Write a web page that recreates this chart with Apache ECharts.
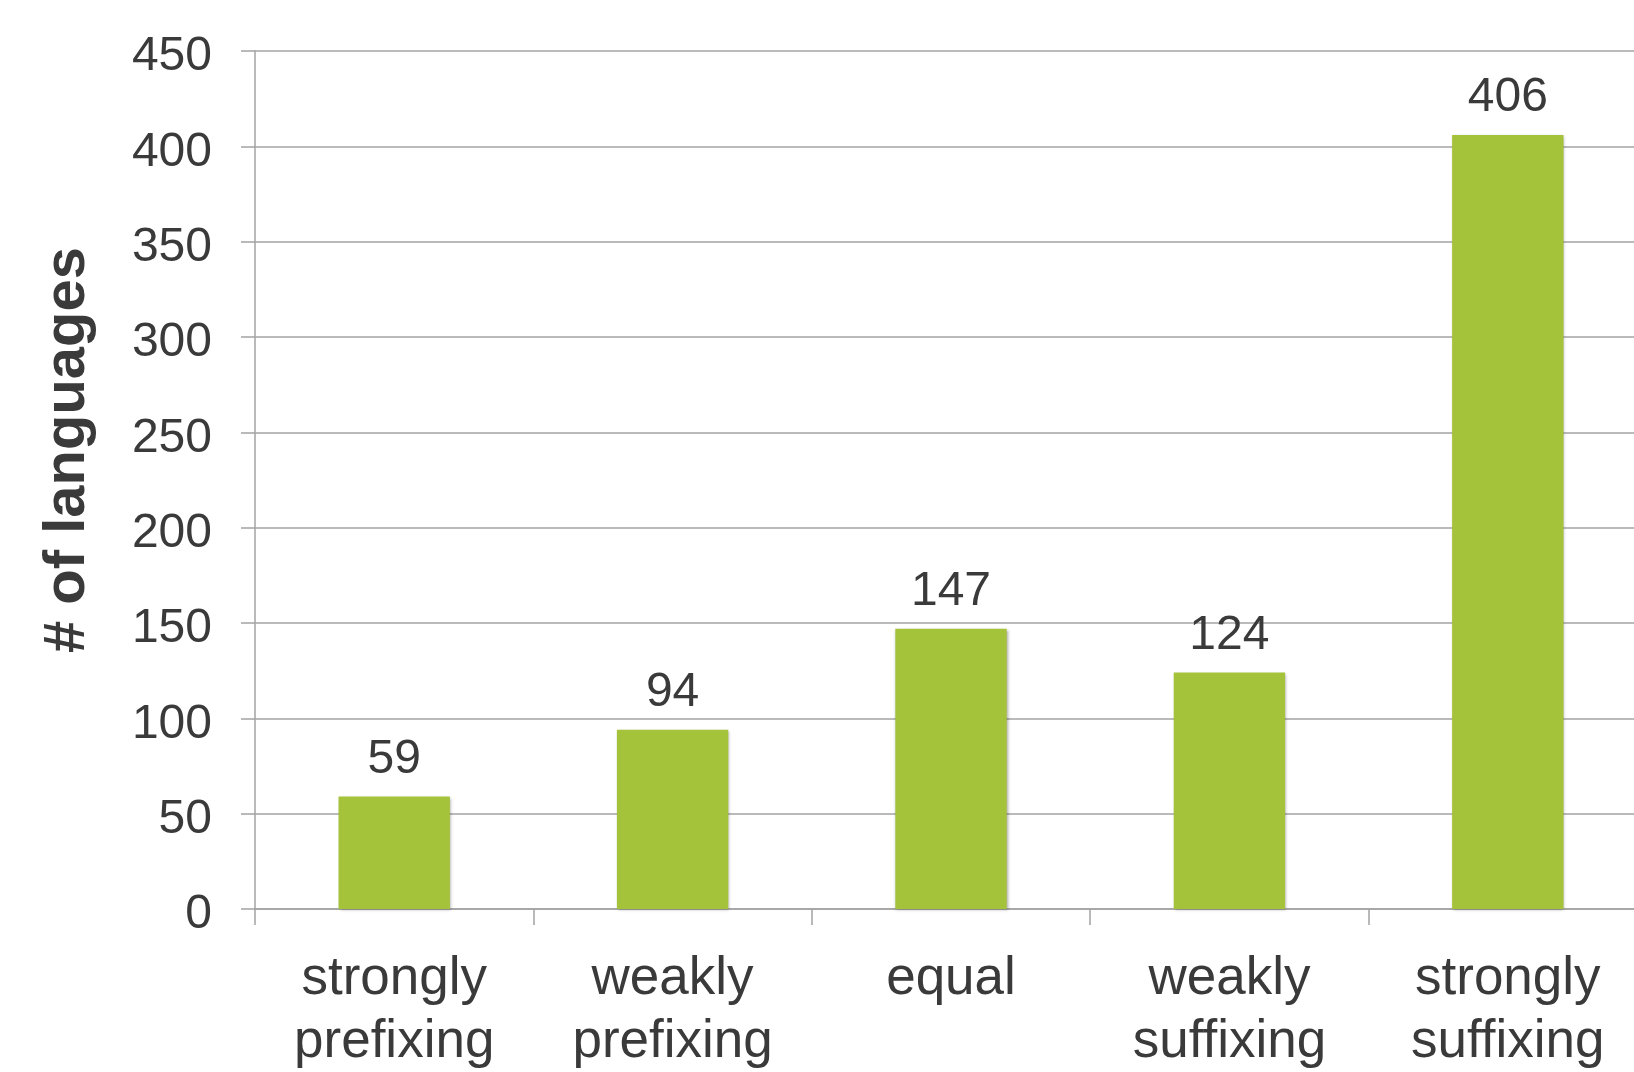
<!DOCTYPE html>
<html>
<head>
<meta charset="utf-8">
<script src="https://cdn.jsdelivr.net/npm/echarts@6/dist/echarts.min.js"></script>
<style>
html,body{margin:0;padding:0;background:#fff;}
#chart{width:1634px;height:1072px;}
</style>
</head>
<body>
<div id="chart"></div>
<script>
const categories = ['strongly\nprefixing', 'weakly\nprefixing', 'equal', 'weakly\nsuffixing', 'strongly\nsuffixing'];
const counts = [59, 94, 147, 124, 406];
const yTitle = '# of languages';

const FONT = '"Liberation Sans", Arial, Helvetica, sans-serif';
const GRID = '#A3A3A3';
const TEXT = '#3A3A3A';

const chart = echarts.init(document.getElementById('chart'), null, {renderer: 'canvas'});
chart.setOption({
  animation: false,
  backgroundColor: '#ffffff',
  grid: {left: 255, top: 51, height: 858, width: 1392, containLabel: false, outerBoundsMode: 'none'},
  xAxis: {
    type: 'category',
    data: categories,
    boundaryGap: true,
    axisLine: {show: true, lineStyle: {color: GRID, width: 1.5}},
    axisTick: {show: true, length: 16, lineStyle: {color: GRID, width: 1.5}},
    axisLabel: {
      margin: 39,
      fontFamily: FONT,
      fontSize: 53,
      lineHeight: 63,
      color: TEXT,
      interval: 0
    }
  },
  yAxis: {
    type: 'value',
    min: 0,
    max: 450,
    interval: 50,
    name: yTitle,
    nameLocation: 'middle',
    nameGap: 158,
    nameRotate: 90,
    nameTextStyle: {
      fontFamily: FONT,
      fontSize: 58,
      fontWeight: 'bold',
      color: TEXT,
      padding: [0, 0, 0, 60]
    },
    axisLine: {show: true, lineStyle: {color: GRID, width: 1.5}},
    axisTick: {show: true, length: 14, lineStyle: {color: GRID, width: 1.5}},
    splitLine: {show: true, lineStyle: {color: GRID, width: 1.5}},
    axisLabel: {
      margin: 43,
      fontFamily: FONT,
      fontSize: 48,
      color: TEXT,
      formatter: '{v|{value}}',
      rich: {
        v: {
          fontFamily: FONT,
          fontSize: 48,
          color: TEXT,
          padding: [12, 0, 0, 0]
        }
      }
    }
  },
  series: [{
    type: 'bar',
    data: counts,
    barWidth: '40%',
    itemStyle: {
      color: '#A5C33A',
      shadowColor: 'rgba(0,0,0,0.35)',
      shadowBlur: 3,
      shadowOffsetX: 1,
      shadowOffsetY: 1
    },
    label: {
      show: true,
      position: 'top',
      distance: 13,
      fontFamily: FONT,
      fontSize: 48,
      color: TEXT
    }
  }]
});
</script>
</body>
</html>
